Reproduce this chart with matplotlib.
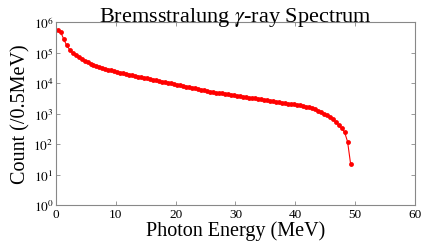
import matplotlib
matplotlib.use("Agg")
import matplotlib.pyplot as plt
import numpy as np

energy_mev = [0.25 + 0.5 * i for i in range(99)]
counts = [
    550000, 479000, 282000, 174000, 126000, 97700, 81300, 69200, 60300, 53700,
    47900, 43700, 39800, 36700, 33900, 31600, 29500, 27500, 26000, 24500,
    23200, 21900, 20800, 19900, 19000, 18100, 17300, 16400, 15700, 15000,
    14300, 13600, 13000, 12400, 11800, 11200, 10700, 10200, 9750, 9290,
    8850, 8450, 8050, 7670, 7330, 6980, 6650, 6350, 6050, 5770,
    5510, 5250, 5070, 4900, 4730, 4570, 4420, 4270, 4120, 3980,
    3850, 3720, 3590, 3470, 3350, 3240, 3130, 3020, 2920, 2820,
    2720, 2630, 2540, 2450, 2370, 2290, 2210, 2140, 2070, 1995,
    1930, 1860, 1780, 1700, 1620, 1510, 1410, 1260, 1120, 1000,
    871, 759, 676, 537, 427, 331, 245, 120, 23,
]
x_ticks = [0, 10, 20, 30, 40, 50, 60]
y_ticks = [1e0, 1e1, 1e2, 1e3, 1e4, 1e5, 1e6]
y_tick_labels = [r"$10^{%d}$" % k for k in range(7)]

plt.rcParams["font.family"] = ["Liberation Serif", "DejaVu Serif"]
plt.rcParams["mathtext.fontset"] = "stix"

fig = plt.figure(figsize=(4.22, 2.51), dpi=100)
ax = fig.add_axes([0.133, 0.179, 0.850, 0.729])

ax.plot(energy_mev, counts, color="red", linewidth=0.8, marker="o",
        markersize=3.5, markeredgewidth=0)
ax.set_yscale("log")
ax.set_xlim(0, 60)
ax.set_ylim(1, 1e6)
ax.set_xticks(x_ticks)
ax.set_xticklabels([str(t) for t in x_ticks])
ax.set_yticks(y_ticks)
ax.set_yticklabels(y_tick_labels)
ax.minorticks_off()
ax.tick_params(direction="in", top=True, right=True, length=3, width=0.6,
               color="#888888", labelsize=9.5, pad=2)
for s in ax.spines.values():
    s.set_color("#888888")
    s.set_linewidth(0.8)

ax.set_title(r"Bremsstralung $\gamma$-ray Spectrum", fontsize=16, pad=1)
ax.set_xlabel("Photon Energy (MeV)", fontsize=14.5, labelpad=0)
ax.set_ylabel("Count (/0.5MeV)", fontsize=14.5, labelpad=2)

fig.savefig("out.png", dpi=100)
